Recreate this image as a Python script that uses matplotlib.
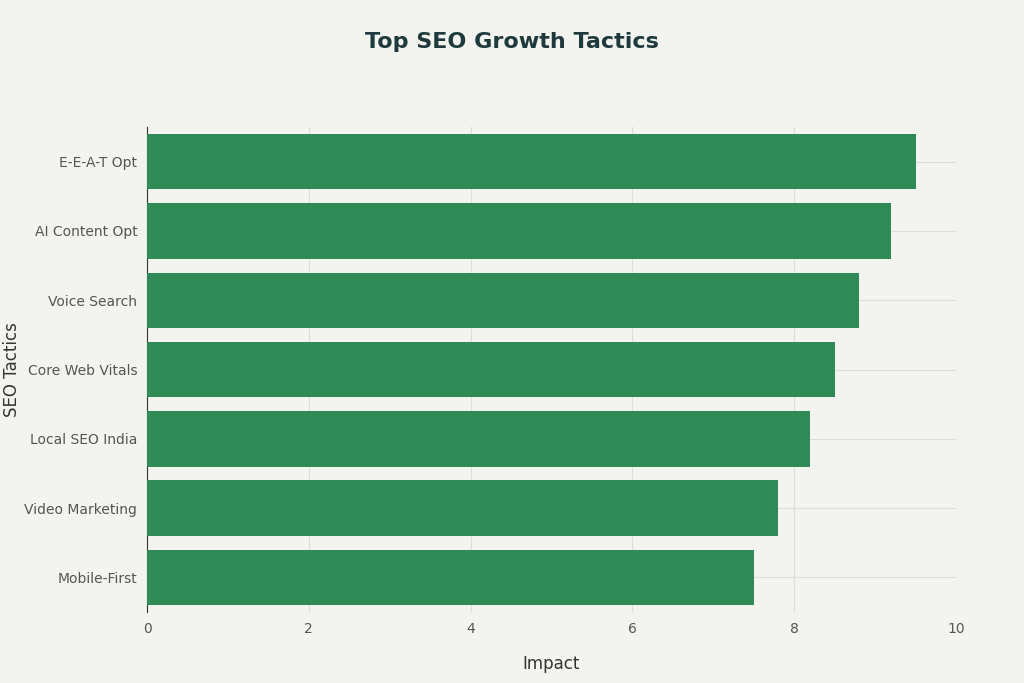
import matplotlib.pyplot as plt

# Datos
tactics = ["Mobile-First", "Video Marketing", "Local SEO India", "Core Web Vitals",
           "Voice Search", "AI Content Opt", "E-E-A-T Opt"]
impact = [7.5, 7.8, 8.2, 8.5, 8.8, 9.2, 9.5]
xticks = [0, 2, 4, 6, 8, 10]

bg = "#f3f3ef"
fig = plt.figure(figsize=(10.24, 6.83), dpi=100, facecolor=bg)
ax = fig.add_axes([147/1024, 1 - 612/683, (956-147)/1024, (612-127)/683], facecolor=bg)

ax.barh(tactics, impact, height=0.8, color="#2e8b57", zorder=3)
ax.set_xlim(0, 10)
ax.set_ylim(-0.5, 6.5)
ax.set_xticks(xticks)
ax.grid(True, color="#dcdcd8", linewidth=0.8, zorder=0)
for s in ["top", "right", "bottom"]:
    ax.spines[s].set_visible(False)
ax.spines["left"].set_color("#333333")
ax.tick_params(length=0, labelsize=10, colors="#555555", pad=7)

ax.set_xlabel("Impact", fontsize=12, color="#333333", labelpad=14)
fig.text(12/1024, 0.5 - 0.5*(127+612-683)/683 + 0.5 - 0.5, "SEO Tactics", rotation=90,
         ha="center", va="center", fontsize=12, color="#333333")
fig.text(0.5, 1 - 42/683, "Top SEO Growth Tactics", ha="center", va="center",
         fontsize=16, fontweight="bold", color="#1f3a3d")

fig.savefig("out.png", dpi=100, facecolor=bg)
